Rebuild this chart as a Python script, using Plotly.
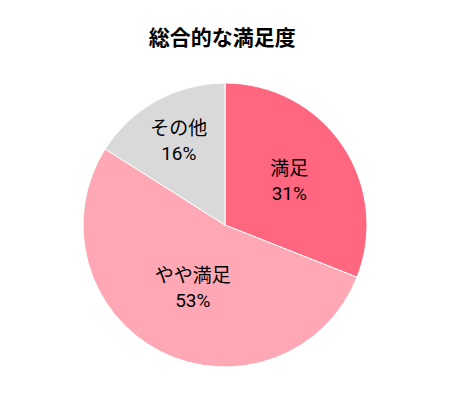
import plotly.graph_objects as go

labels = ['満足', 'やや満足', 'その他']
values = [31, 53, 16]
colors = ['#FF6680', '#FFA8B5', '#D9D9D9']

fig = go.Figure(go.Pie(
    labels=labels,
    values=values,
    sort=False,
    direction='clockwise',
    rotation=0,
    marker=dict(colors=colors, line=dict(color='white', width=1)),
    textinfo='label+percent',
    textposition='inside',
    insidetextorientation='horizontal',
    textfont=dict(size=19, color='black'),
    hoverinfo='label+percent',
))

# page body has an 8px margin, so margins are shifted to compensate
fig.update_layout(
    width=450, height=400,
    title=dict(text='<b>総合的な満足度</b>', xref='container', x=0.476, xanchor='center',
               yref='container', y=0.926, yanchor='middle',
               font=dict(size=21, color='black')),
    font=dict(family='Roboto, Noto Sans CJK JP, sans-serif', color='black'),
    showlegend=False,
    margin=dict(l=75, r=91, t=75, b=41),
    paper_bgcolor='white',
)

fig.write_html('out.html')
